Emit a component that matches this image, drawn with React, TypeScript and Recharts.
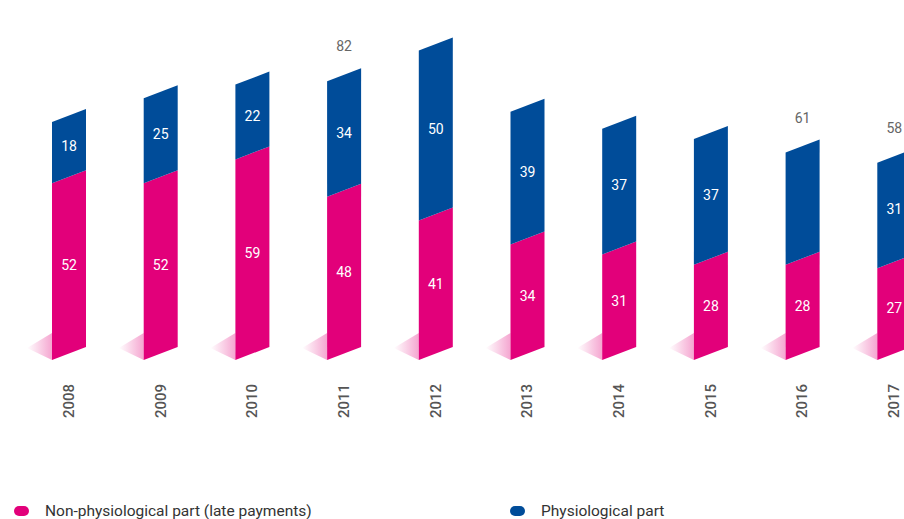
import { BarChart, Bar, XAxis, YAxis, LabelList } from 'recharts';

const years = ['2008', '2009', '2010', '2011', '2012', '2013', '2014', '2015', '2016', '2017'];
const nonPhysiological = [52, 52, 59, 48, 41, 34, 31, 28, 28, 27];
const physiological = [18, 25, 22, 34, 50, 39, 37, 37, 33, 31];
const totalShownFor = ['2011', '2016', '2017'];
const physLabelHiddenFor = ['2016'];

const PINK = '#e2007a';
const BLUE = '#004c99';
const SKEW = 13;

const data = years.map((year, i) => ({
  year,
  non: nonPhysiological[i],
  phys: physiological[i],
  total: nonPhysiological[i] + physiological[i],
}));

// parallelogram: left edge on the scale, right edge lifted by SKEW
function SlantedBar(props: any) {
  const { x, y, width, height, fill, withShadow } = props;
  if (height == null || height <= 0) return null;
  const yb = y + height;
  const pts = `${x},${yb} ${x + width},${yb - SKEW} ${x + width},${y - SKEW} ${x},${y}`;
  return (
    <g>
      {withShadow && (
        <polygon points={`${x},${yb - 27} ${x - 25},${yb - 12} ${x},${yb}`} fill="url(#groundShadow)" />
      )}
      <polygon points={pts} fill={fill} />
    </g>
  );
}

function inner(hidden: string[]) {
  return (p: any) => {
    const { x, y, width, height, value, index } = p;
    if (hidden.includes(years[index])) return null;
    return (
      <text
        x={x + width / 2}
        y={y + height / 2 - SKEW / 2}
        fill="#fff"
        fontSize={14}
        fontFamily="Roboto, sans-serif"
        textAnchor="middle"
        dominantBaseline="central"
      >
        {value}
      </text>
    );
  };
}

function TotalLabel(p: any) {
  const { x, y, width, value, index } = p;
  if (!totalShownFor.includes(years[index])) return null;
  return (
    <text
      x={x + width / 2}
      y={y - 35}
      fill="#666"
      fontSize={14}
      fontFamily="Roboto, sans-serif"
      textAnchor="middle"
      dominantBaseline="central"
    >
      {value}
    </text>
  );
}

function YearTick(p: any) {
  const { x, y, payload } = p;
  return (
    <text
      x={x}
      y={y}
      transform={`rotate(-90, ${x}, ${y})`}
      textAnchor="end"
      dominantBaseline="central"
      fill="#555"
      fontSize={15}
      fontWeight={500}
      fontFamily="Roboto, sans-serif"
    >
      {payload.value}
    </text>
  );
}

const legendItems = [
  { label: 'Non-physiological part (late payments)', color: PINK, left: 14 },
  { label: 'Physiological part', color: BLUE, left: 510 },
];

export default function App() {
  return (
    <div style={{ position: 'absolute', left: 0, top: 0, width: 904, height: 519, overflow: 'hidden', background: '#fff' }}>
      <BarChart width={940} height={519} data={data} margin={{ top: 20, right: 0, left: 23, bottom: 99 }}>
        <defs>
          <linearGradient id="groundShadow" x1="1" y1="0" x2="0" y2="0">
            <stop offset="0%" stopColor={PINK} stopOpacity={0.35} />
            <stop offset="100%" stopColor={PINK} stopOpacity={0} />
          </linearGradient>
        </defs>
        <XAxis
          dataKey="year"
          axisLine={false}
          tickLine={false}
          height={60}
          tickMargin={18}
          interval={0}
          tick={<YearTick />}
        />
        <YAxis hide domain={[0, 100]} />
        <Bar
          dataKey="non"
          stackId="a"
          fill={PINK}
          barSize={34}
          isAnimationActive={false}
          shape={(p: any) => <SlantedBar {...p} withShadow />}
        >
          <LabelList dataKey="non" content={inner([])} />
        </Bar>
        <Bar
          dataKey="phys"
          stackId="a"
          fill={BLUE}
          barSize={34}
          isAnimationActive={false}
          shape={(p: any) => <SlantedBar {...p} />}
        >
          <LabelList dataKey="phys" content={inner(physLabelHiddenFor)} />
          <LabelList dataKey="total" content={<TotalLabel />} />
        </Bar>
      </BarChart>
      {legendItems.map((it) => (
        <div
          key={it.label}
          style={{
            position: 'absolute',
            left: it.left,
            top: 502,
            display: 'flex',
            alignItems: 'center',
            fontFamily: 'Roboto, sans-serif',
            fontSize: 15.5,
            color: '#333',
            height: 18,
            whiteSpace: 'nowrap',
          }}
        >
          <span style={{ width: 15, height: 10, borderRadius: 5, background: it.color, display: 'inline-block', marginRight: 16 }} />
          {it.label}
        </div>
      ))}
    </div>
  );
}
